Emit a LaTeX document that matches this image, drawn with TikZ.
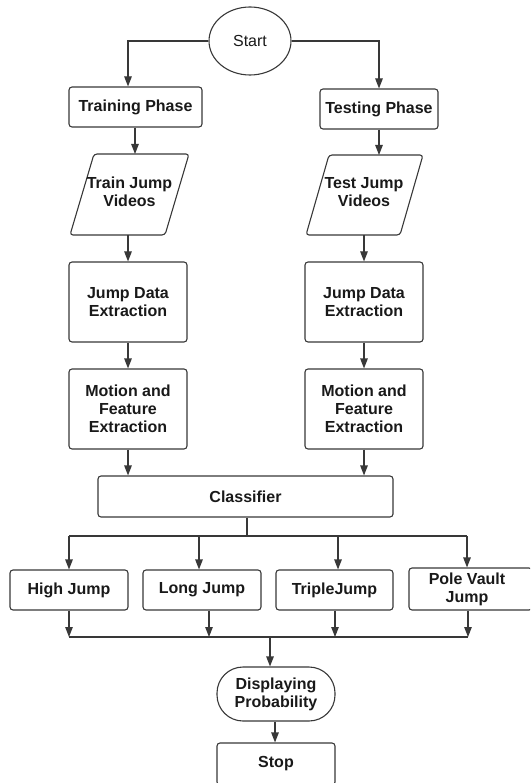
\documentclass[tikz,border=0pt]{standalone}
\usepackage{fontspec}
\setmainfont{Liberation Sans}
\usetikzlibrary{arrows.meta,shapes.geometric}
\begin{document}
\begin{tikzpicture}[x=1pt,y=-1pt,
  ln/.style={draw=black!78, line width=1.1pt},
  arr/.style={ln, -{Triangle[length=10pt,width=7.5pt]}},
  box/.style={ln, rounded corners=3pt, align=center, inner sep=0pt,
    font=\fontsize{16}{18}\selectfont\bfseries, text=black!90},
  txt/.style={align=center, inner sep=0pt,
    font=\fontsize{16}{18}\selectfont\bfseries, text=black!90}]
\clip (0,0) rectangle (530,783);
\useasboundingbox (0,0) rectangle (530,783);
% start
\node[ln, ellipse, minimum width=82, minimum height=68, inner sep=0pt,
  font=\fontsize{16}{18}\selectfont, text=black!90] (start) at (250,41) {Start};
\node[box, minimum width=133, minimum height=40] (train) at (135.5,107) {Training Phase};
\node[box, minimum width=118, minimum height=40] (test) at (379,109) {Testing Phase};
% parallelograms
\draw[ln, rounded corners=3pt] (94,154) -- (189,154) -- (165,235) -- (70,235) -- cycle;
\node[txt] (p1) at (129.5,192) {Train Jump\\Videos};
\coordinate (p1t) at (135,154);
\coordinate (p1b) at (128,235);
\draw[ln, rounded corners=3pt] (329,155) -- (423,155) -- (400,235) -- (306,235) -- cycle;
\node[txt] (p2) at (364,192) {Test Jump\\Videos};
\coordinate (p2t) at (379,155);
\coordinate (p2b) at (364,235);
% extraction
\node[box, minimum width=118, minimum height=80] (jd1) at (128,302) {Jump Data\\Extraction};
\node[box, minimum width=118, minimum height=80] (jd2) at (364,302) {Jump Data\\Extraction};
\node[box, minimum width=118, minimum height=80] (mf1) at (128,409) {Motion and\\Feature\\Extraction};
\node[box, minimum width=118, minimum height=80] (mf2) at (364,409) {Motion and\\Feature\\Extraction};
\node[box, minimum width=295, minimum height=41] (cls) at (245.5,496.5) {Classifier};
% classes
\node[box, minimum width=118, minimum height=40] (hj) at (69,590) {High Jump};
\node[box, minimum width=118, minimum height=40] (lj) at (202,590) {Long Jump};
\node[box, minimum width=117, minimum height=40] (tj) at (334.5,590) {TripleJump};
\node[box, minimum width=123, minimum height=42] (pv) at (470.5,589) {};
\node[txt] (pvt) at (467,589) {Pole Vault\\Jump};
% output
\node[box, minimum width=118, minimum height=54, rounded corners=26pt] (disp) at (276,694) {Displaying\\Probability};
\node[box, minimum width=118, minimum height=42] (stop) at (276,764) {Stop};
% connectors
\draw[arr] (start.west) -| ([xshift=-7.5pt]train.north);
\draw[arr] (start.east) -| (test.north);
\draw[arr] (train.south -| p1t) -- (p1t);
\draw[arr] (test.south) -- (p2t);
\draw[arr] (p1b) -- (jd1.north);
\draw[arr] (p2b) -- (jd2.north);
\draw[arr] (jd1) -- (mf1);
\draw[arr] (jd2) -- (mf2);
\draw[arr] (mf1.south) -- (mf1.south |- cls.north);
\draw[arr] (mf2.south) -- (mf2.south |- cls.north);
% bus 1
\coordinate (b1) at (247,536);
\coordinate (b1l) at (69,536);
\coordinate (b1r) at (467,536);
\draw[ln] (cls.south -| b1) -- (b1);
\draw[ln] (b1l) -- (b1r);
\draw[arr] (hj.north |- b1) -- (hj.north);
\draw[arr] ([xshift=-3pt]lj.north |- b1) -- ([xshift=-3pt]lj.north);
\draw[arr] ([xshift=3.5pt]tj.north |- b1) -- ([xshift=3.5pt]tj.north);
\draw[arr] (b1r) -- (b1r |- pv.north);
% bus 2
\coordinate (b2l) at (69,637);
\coordinate (b2r) at (468,637);
\coordinate (b2) at (270,637);
\draw[ln] (b2l) -- (b2r);
\draw[arr] (hj.south) -- (hj.south |- b2);
\draw[arr] ([xshift=7pt]lj.south) -- ([xshift=7pt]lj.south |- b2);
\draw[arr] ([xshift=0.5pt]tj.south) -- ([xshift=0.5pt]tj.south |- b2);
\draw[arr] (b2r |- pv.south) -- (b2r);
\draw[arr] (b2) -- (b2 |- disp.north);
\draw[arr] ([xshift=-1pt]disp.south) -- ([xshift=-1pt]stop.north);
\end{tikzpicture}
\end{document}
